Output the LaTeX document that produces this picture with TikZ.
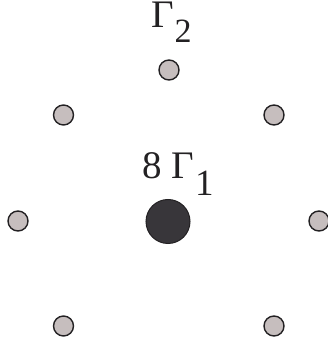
\documentclass[tikz,border=0pt]{standalone}
\usepackage{fontspec}
\setmainfont{Liberation Serif}
\definecolor{sitegray}{RGB}{198,190,190}
\definecolor{coregray}{RGB}{56,54,58}
\definecolor{rimgray}{RGB}{35,33,35}

\begin{document}
\begin{tikzpicture}[x=1pt,y=1pt,
  site/.style={draw=rimgray,line width=1.4pt,circle,fill=sitegray,minimum size=20pt,inner sep=0pt},
  core/.style={draw=rimgray,line width=1pt,circle,fill=coregray,minimum size=44pt,inner sep=0pt},
  lab/.style={inner sep=0pt,anchor=base west,text=rimgray}]
\useasboundingbox (0,0) rectangle (328,345);
% lattice sites
\node[core] (c) at (168,123.5) {};
\node[site] (s1) at (169,275) {};
\node[site] (s2) at (63.5,230) {};
\node[site] (s3) at (274,230) {};
\node[site] (s4) at (18,124) {};
\node[site] (s5) at (319,124) {};
\node[site] (s6) at (63.5,19) {};
\node[site] (s7) at (274,19) {};
% labels
\node[lab] (l2) at (151,317) {\fontsize{39}{39}\selectfont Γ\kern1pt\raisebox{-15pt}{\fontsize{34}{34}\selectfont 2}};
\node[lab] (l1) at (142,166.7) {\fontsize{39}{39}\selectfont 8 Γ\kern1pt\raisebox{-17.5pt}{\fontsize{37}{37}\selectfont 1}};
\end{tikzpicture}
\end{document}
